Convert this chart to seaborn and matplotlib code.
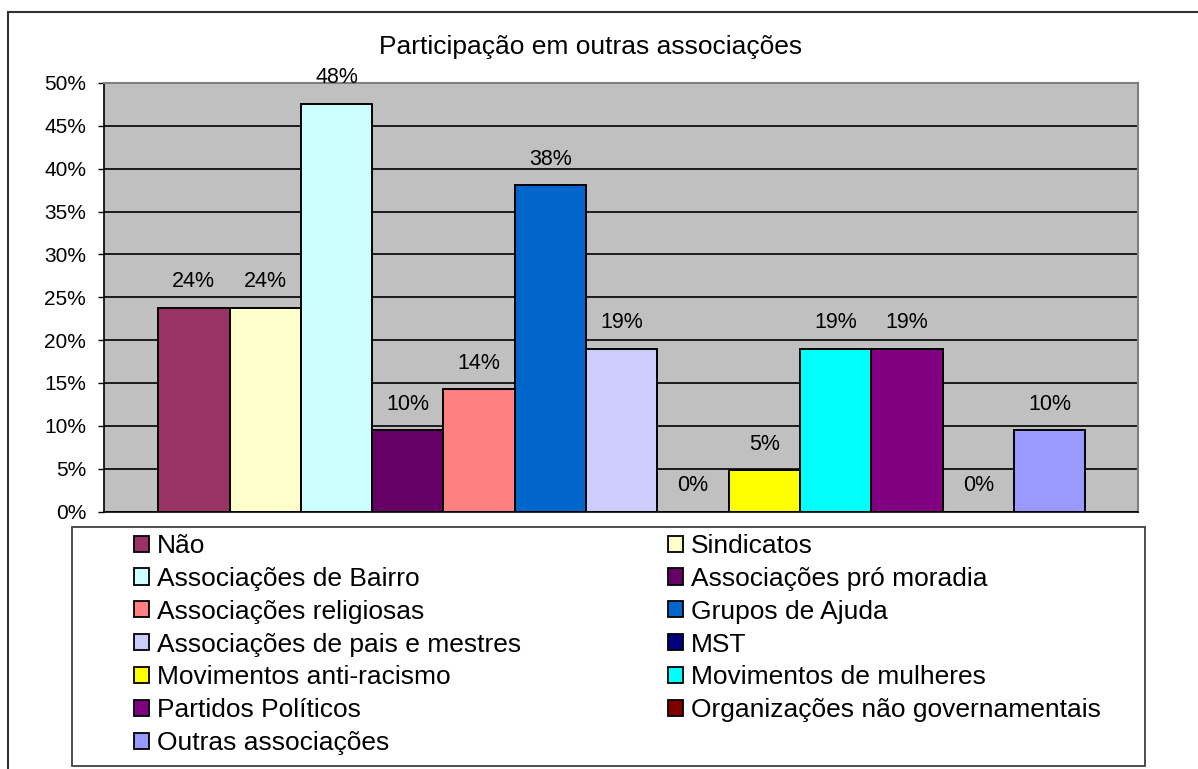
import numpy as np
import pandas as pd
import matplotlib
matplotlib.use("Agg")
import matplotlib.pyplot as plt
from matplotlib.patches import Rectangle
from matplotlib.ticker import PercentFormatter
import seaborn as sns

# dados
categorias = ['Não', 'Sindicatos', 'Associações de Bairro', 'Associações pró moradia',
              'Associações religiosas', 'Grupos de Ajuda', 'Associações de pais e mestres',
              'MST', 'Movimentos anti-racismo', 'Movimentos de mulheres',
              'Partidos Políticos', 'Organizações não governamentais', 'Outras associações']
valores = [0.238, 0.238, 0.476, 0.095, 0.143, 0.381, 0.190, 0.0, 0.048, 0.190, 0.190, 0.0, 0.095]
cores = ['#993366', '#FFFFCC', '#CCFFFF', '#660066', '#FF8080', '#0066CC', '#CCCCFF',
         '#000080', '#FFFF00', '#00FFFF', '#800080', '#800000', '#9999FF']
titulo = 'Participação em outras associações'

df = pd.DataFrame({'Categoria': categorias, 'Valor': valores})

sns.set_style('white')
plt.rcParams['font.family'] = ['Liberation Sans', 'DejaVu Sans']
plt.rcParams['text.color'] = 'black'
plt.rcParams['ytick.labelcolor'] = 'black'

W, H = 1198, 769
fig = plt.figure(figsize=(W / 100, H / 100), dpi=100)
ax = fig.add_axes([104 / W, 1 - 511.5 / H, (1138 - 104) / W, (511.5 - 83) / H])
ax.set_facecolor('#C0C0C0')

sns.barplot(data=df, x='Categoria', y='Valor', hue='Categoria', palette=cores, saturation=1,
            width=1, edgecolor='black', linewidth=1.4, legend=False, ax=ax, zorder=3)

# rótulos de valor
for cont, v in zip(ax.containers, valores):
    ax.bar_label(cont, labels=[f'{round(v * 100):.0f}%'], padding=11, fontsize=15.5)

ax.set_ylim(0, 0.5)
ax.set_yticks(np.arange(0, 0.51, 0.05))
ax.yaxis.set_major_formatter(PercentFormatter(1.0, decimals=0))
ax.set_xlim(-1.26, 13.24)
ax.set_xticks([])
ax.set_xlabel('')
ax.set_ylabel('')
ax.yaxis.grid(True, color='black', linewidth=1.2, zorder=1)
ax.set_axisbelow(True)
ax.tick_params(axis='y', left=True, length=4.3, width=1, color='black', labelsize=15, pad=8.6)
for s in ['top', 'right']:
    ax.spines[s].set_color('#808080')
    ax.spines[s].set_linewidth(1.5)
for s in ['left', 'bottom']:
    ax.spines[s].set_color('black')
    ax.spines[s].set_linewidth(1.2)

fig.text(591 / W, 1 - 54 / H, titulo, ha='center', va='baseline', fontsize=19)

# moldura da legenda e do gráfico
fig.add_artist(Rectangle((72 / W, 1 - 766 / H), (1145 - 72) / W, (766 - 527) / H,
                         transform=fig.transFigure, fill=False, edgecolor='#404040', linewidth=1.3))
fig.add_artist(Rectangle((8 / W, -0.05), 1.1, 1 - 12 / H + 0.05,
                         transform=fig.transFigure, fill=False, edgecolor='#303030', linewidth=1.5))

handles = [Rectangle((0, 0), 1, 1, facecolor=c, edgecolor='black', linewidth=1.3) for c in cores]
esq = list(range(0, len(categorias), 2))
dir_ = list(range(1, len(categorias), 2))
kw = dict(frameon=False, loc='upper left', fontsize=19, handlelength=0.57, handleheight=0.57,
          handletextpad=0.3, labelspacing=0.335, borderpad=0, borderaxespad=0)
fig.legend([handles[i] for i in esq], [categorias[i] for i in esq],
           bbox_to_anchor=(134 / W, 1 - 534 / H), **kw)
fig.legend([handles[i] for i in dir_], [categorias[i] for i in dir_],
           bbox_to_anchor=(668 / W, 1 - 534 / H), **kw)

fig.savefig('out.png', dpi=100)
